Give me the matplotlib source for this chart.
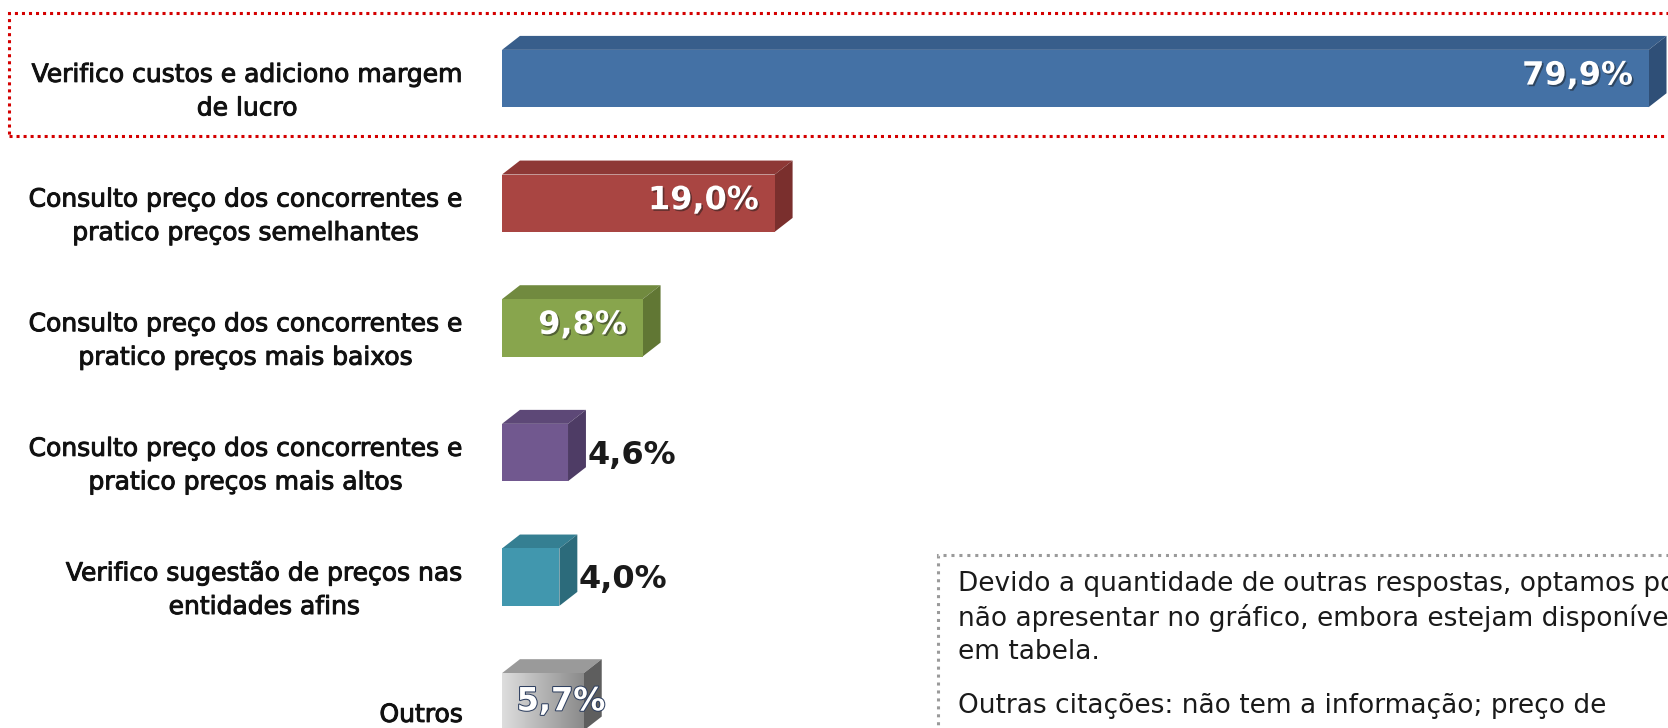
import matplotlib
matplotlib.use("Agg")
import matplotlib.pyplot as plt
import matplotlib.patheffects as pe
from matplotlib.patches import Polygon, Rectangle
from matplotlib.colors import LinearSegmentedColormap
import numpy as np

# ── Data ──────────────────────────────────────────────────────────────────────
categories = [
    "Verifico custos e adiciono margem\nde lucro",
    "Consulto preço dos concorrentes e\npratico preços semelhantes",
    "Consulto preço dos concorrentes e\npratico preços mais baixos",
    "Consulto preço dos concorrentes e\npratico preços mais altos",
    "Verifico sugestão de preços nas\nentidades afins",
    "Outros",
]
values = [79.9, 19.0, 9.8, 4.6, 4.0, 5.7]
value_labels = ["79,9%", "19,0%", "9,8%", "4,6%", "4,0%", "5,7%"]
label_mode = ["in", "in", "in", "out", "out", "over"]

note_lines = [
    "Devido a quantidade de outras respostas, optamos por",
    "não apresentar no gráfico, embora estejam disponíveis",
    "em tabela.",
    "Outras citações: não tem a informação; preço de",
]

# ── Colours (front, top, side) ───────────────────────────────────────────────
FRONT = ["#4471a5", "#a94542", "#88a54d", "#71588f", "#4197ae", "#b0b0b0"]
TOP   = ["#385e8b", "#8e3836", "#718a3f", "#5d4877", "#357f92", "#9a9a9a"]
SIDE  = ["#2f4f77", "#7a2f2d", "#617734", "#4e3c65", "#2c6b7b", "#5e5e5e"]
GREY_GRAD = LinearSegmentedColormap.from_list("g", ["#dedede", "#8a8a8a"])

W, H = 1668, 728
fig = plt.figure(figsize=(W / 100, H / 100), dpi=100)
fig.patch.set_facecolor("white")

x0_px = 502
px_per_pct = 14.35
ax = fig.add_axes([x0_px / W, 0, 1 - x0_px / W, 1])
ax.axis("off")

h = 0.46      # bar thickness (category units)
dx = 1.25     # 3D depth in x (pct units)
dy = 0.112    # 3D depth in y (category units)

shadow = [pe.withSimplePatchShadow(offset=(1.2, -1.2), shadow_rgbFace="#1a1a1a",
                                   alpha=0.5)]
label_fx = [pe.withStroke(linewidth=0.7, foreground="#111111")]

for i, v in enumerate(values):
    y0, y1 = i - h / 2, i + h / 2
    top = Polygon([(0, y0), (v, y0), (v + dx, y0 - dy), (dx, y0 - dy)],
                  closed=True, fc=TOP[i], ec="none", zorder=2)
    side = Polygon([(v, y0), (v + dx, y0 - dy), (v + dx, y1 - dy), (v, y1)],
                   closed=True, fc=SIDE[i], ec="none", zorder=2)
    front = Rectangle((0, y0), v, h, fc=FRONT[i], ec="none", zorder=3)
    ax.add_patch(top)
    ax.add_patch(side)
    ax.add_patch(front)
    if i == len(values) - 1:
        grad = np.linspace(0, 1, 256).reshape(1, -1)
        im = ax.imshow(grad, cmap=GREY_GRAD, extent=(0, v, y1, y0),
                       aspect="auto", zorder=4)
        im.set_clip_path(front)

    # category label
    ax.text(-2.72, i + 0.105, categories[i], ha="right", va="center",
            multialignment="center", fontsize=18, color="#111111",
            family="DejaVu Sans", linespacing=1.5, path_effects=label_fx)

    # value label
    mode = label_mode[i]
    if mode == "in":
        ax.text(v - 1.1, i - 0.02, value_labels[i], ha="right", va="center",
                fontsize=23, fontweight="bold", color="white", zorder=6,
                path_effects=shadow)
    elif mode == "out":
        ax.text(v + dx + 0.1, i + 0.02, value_labels[i], ha="left", va="center",
                fontsize=23, fontweight="bold", color="#1a1a1a", zorder=6)
    else:
        ax.text(v + dx + 0.25, i, value_labels[i], ha="right", va="center",
                fontsize=23, fontweight="bold", color="white", zorder=6,
                path_effects=[pe.withStroke(linewidth=1.5, foreground="#2f4060")])

ax.set_xlim(0, (W - x0_px) / px_per_pct)
ax.set_ylim(5.21, -0.63)

# red dotted highlight around the first category
fig.add_artist(Rectangle((9 / W, 1 - 136 / H), 1.2, 123 / H,
                         transform=fig.transFigure, fill=False,
                         ec="#d40000", lw=2.2, ls=(0, (1, 1.3))))

# grey dotted note box
fig.add_artist(Rectangle((938 / W, -0.2), 0.6, 0.2 + 1 - 555 / H,
                         transform=fig.transFigure, fill=False,
                         ec="#9a9a9a", lw=2.2, ls=(0, (1, 1.6))))

note_y = [584, 618, 652, 706]
for line, yp in zip(note_lines, note_y):
    fig.text(958 / W, 1 - yp / H, line, ha="left", va="center",
             fontsize=19, color="#1a1a1a", family="DejaVu Sans")

fig.savefig("out.png", dpi=100)
